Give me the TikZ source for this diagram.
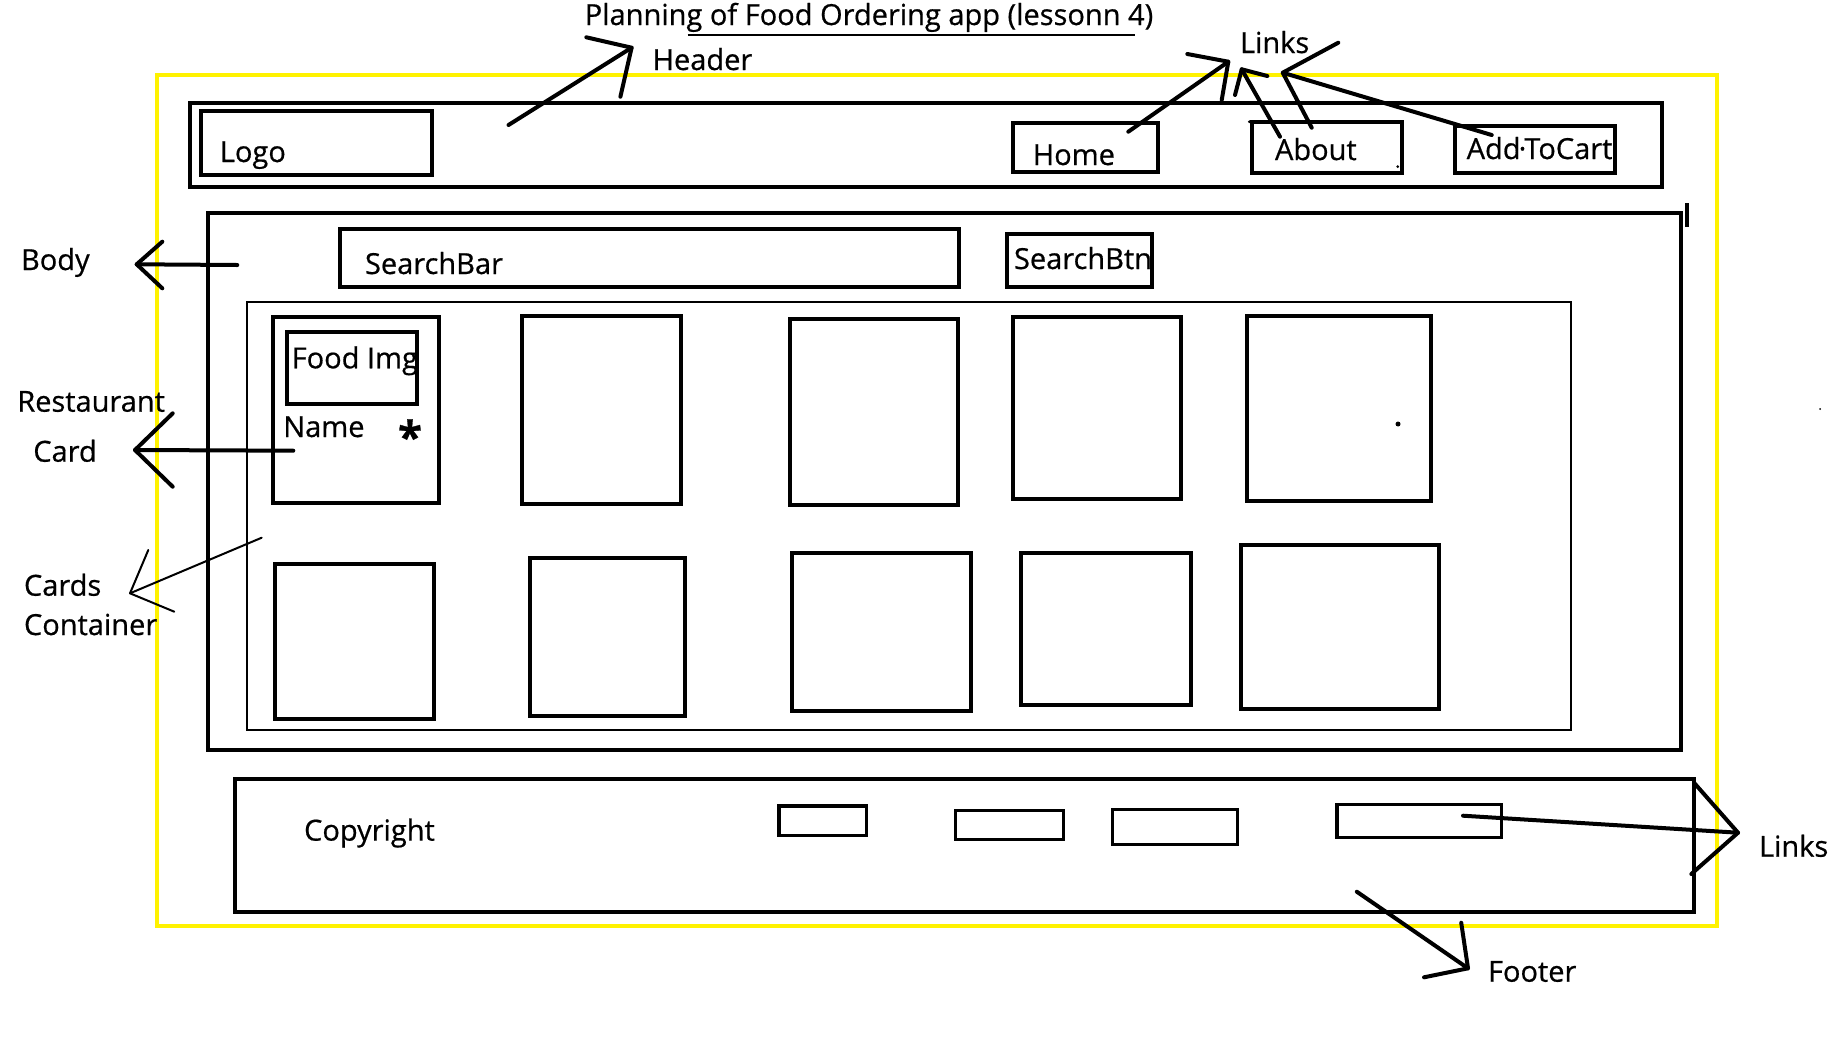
\documentclass[tikz,border=0pt]{standalone}
\usepackage{fontspec}
\setmainfont{Open Sans}[FakeBold=0.6]
\usetikzlibrary{fit}
\newcommand{\handarrow}[5][pen]{\draw[#1] (#2) -- (#3); \draw[#1] (#4) -- (#3) -- (#5);}
\begin{document}
\begin{tikzpicture}[x=0.5pt,y=-0.5pt,
  every node/.style={font=\fontsize{14.5}{17}\selectfont, inner sep=0pt, outer sep=0pt},
  thickbox/.style={draw, line width=2pt, inner sep=0pt, outer sep=0pt},
  midbox/.style={draw, line width=1.6pt, inner sep=0pt, outer sep=0pt},
  thinbox/.style={draw, line width=1pt, inner sep=0pt, outer sep=0pt},
  pagebox/.style={draw=yellow, line width=2pt, inner sep=0pt, outer sep=0pt},
  pen/.style={line width=2pt, line cap=round, line join=round},
  thinpen/.style={line width=1pt, line cap=round, line join=round},
  txt/.style={anchor=base west},
]
\fill[white] (0,0) rectangle (1834,1055);
\useasboundingbox (0,0) rectangle (1834,1055);

% page outline
\node[pagebox, fit={(156.7,74.9) (1716.7,926.3)}] (page) {};

% title
\node[txt] (title) at (584.8,25) {Planning of Food Ordering app (lessonn 4)};
\coordinate (ulA) at (687.7,35);
\coordinate (ulB) at (1134.5,35);
\draw[line width=1pt] (ulA) -- (ulB);

% header
\node[thickbox, fit={(189.5,102.9) (1662,187.1)}] (header) {};
\node[thickbox, fit={(201.2,111.1) (431.6,175.4)}] (logo) {};
\node[txt] (logot) at (219.9,162) {Logo};
\node[thickbox, fit={(1012.9,122.8) (1157.9,171.9)}] (home) {};
\node[txt] (homet) at (1032.8,165) {Home};
\node[thickbox, fit={(1251.7,121.7) (1401.7,172.7)}] (about) {};
\node[txt] (aboutt) at (1275,160) {About};
\node[thickbox, fit={(1455,126.3) (1615.2,173.1)}] (cart) {};
\node[txt] (cartt) at (1466.7,159) {Add\kern-1pt·\kern-1pt ToCart};
\fill (1249.3,121.7) circle (1.5);
\fill (1397.7,166.7) circle (1.5);

\node[txt] (headerl) at (652.6,70) {Header};
\coordinate (hS) at (508.5,125);
\coordinate (hT) at (631.6,47.7);
\coordinate (hB1) at (586.3,37.3);
\coordinate (hB2) at (620.4,96.7);
\handarrow{hS}{hT}{hB1}{hB2}

\node[txt] (linkst) at (1240,53) {Links};
\coordinate (lhS) at (1128.3,131.7);
\coordinate (lhT) at (1228.3,61.7);
\coordinate (lhB1) at (1187.3,54);
\coordinate (lhB2) at (1221.7,100);
\handarrow{lhS}{lhT}{lhB1}{lhB2}
\coordinate (laS) at (1280,136.7);
\coordinate (laT) at (1241.7,69.3);
\coordinate (laB1) at (1267.3,76);
\coordinate (laB2) at (1235,95);
\handarrow{laS}{laT}{laB1}{laB2}
\coordinate (lbS) at (1311.7,127.7);
\coordinate (lbT) at (1282.7,72.7);
\coordinate (lbB) at (1338.3,42.7);
\coordinate (lcS) at (1491.7,135);
\draw[pen] (lbS) -- (lbT) -- (lbB);
\draw[pen] (lcS) -- (lbT);

% body
\node[thickbox, fit={(208.2,212.9) (1680.7,749.7)}] (body) {};
\coordinate (iA) at (1687.3,203.3);
\coordinate (iB) at (1687.3,227.3);
\draw[line width=2pt] (iA) -- (iB);
\node[txt] (bodyl) at (21,270) {Body};
\coordinate (bS) at (237.3,265);
\coordinate (bT) at (136.7,264.3);
\coordinate (bB1) at (162.3,241.7);
\coordinate (bB2) at (162.3,288.3);
\handarrow{bS}{bT}{bB1}{bB2}

\node[thickbox, fit={(340.4,229.2) (959.1,286.6)}] (search) {};
\node[txt] (searcht) at (365,274) {SearchBar};
\node[thickbox, fit={(1007,233.9) (1152,286.6)}] (btn) {};
\node[txt] (btnt) at (1014,269) {SearchBtn};

% cards container
\node[thinbox, fit={(246.8,301.8) (1570.7,729.8)}] (cont) {};

% cards
\node[thickbox, fit={(272.7,316.7) (439.3,503.3)}] (c1) {};
\node[thickbox, fit={(287.3,331.7) (416.7,404)}] (img) {};
\node[txt] (imgt) at (291.7,368.3) {Food Img};
\node[txt] (namet) at (283.3,437) {Name};
\node[anchor=center, font=\fontsize{22}{24}\selectfont\bfseries] (star) at (410,436) {*};
\node[thickbox, fit={(521.6,315.8) (680.7,504.1)}] (c2) {};
\node[thickbox, fit={(789.5,319.3) (957.9,505.3)}] (c3) {};
\node[thickbox, fit={(1012.9,317) (1181.3,499.4)}] (c4) {};
\node[thickbox, fit={(1246.7,316) (1430.7,500.7)}] (c5) {};
\fill (1398,424) circle (2.5);
\node[thickbox, fit={(274.5,563.5) (434.1,718.5)}] (c6) {};
\node[thickbox, fit={(529.8,557.9) (685.4,715.8)}] (c7) {};
\node[thickbox, fit={(791.8,553.2) (970.8,711.1)}] (c8) {};
\node[thickbox, fit={(1021.1,553.2) (1190.7,705.3)}] (c9) {};
\node[thickbox, fit={(1241,545) (1438.6,708.8)}] (c10) {};
\fill (1820,409) circle (1);

\node[txt] (restl) at (17.3,411.7) {Restaurant};
\node[txt] (cardl) at (33.3,461.7) {Card};
\coordinate (rS) at (293.3,450.7);
\coordinate (rT) at (135,450);
\coordinate (rB1) at (172.7,413.3);
\coordinate (rB2) at (172.7,486.7);
\handarrow{rS}{rT}{rB1}{rB2}

\node[txt] (cardsl) at (24,595.7) {Cards};
\node[txt] (contl) at (24,635) {Container};
\coordinate (kS) at (261.7,537.7);
\coordinate (kT) at (130,593.3);
\coordinate (kB1) at (148.3,550);
\coordinate (kB2) at (174.3,611.7);
\handarrow[thinpen]{kS}{kT}{kB1}{kB2}

% footer
\node[thickbox, fit={(235.1,779) (1693.6,912.3)}] (footer) {};
\node[txt] (copy) at (304.1,840.6) {Copyright};
\node[midbox, fit={(779,805.9) (866.7,835.1)}] (f1) {};
\node[midbox, fit={(955.6,810.5) (1063.2,839.8)}] (f2) {};
\node[midbox, fit={(1112.3,809.4) (1237.4,844.5)}] (f3) {};
\node[midbox, fit={(1336.9,804.7) (1501.8,837.4)}] (f4) {};
\node[txt] (flinks) at (1759,856.7) {Links};
\coordinate (fS) at (1463,815.7);
\coordinate (fT) at (1738,832.7);
\coordinate (fB1) at (1694.5,783.3);
\coordinate (fB2) at (1691.3,874);
\handarrow{fS}{fT}{fB1}{fB2}
\node[txt] (footl) at (1488,981.7) {Footer};
\coordinate (tS) at (1356.8,891.7);
\coordinate (tT) at (1468,968.3);
\coordinate (tB1) at (1461.2,922.7);
\coordinate (tB2) at (1424,977.3);
\handarrow{tS}{tT}{tB1}{tB2}
\end{tikzpicture}
\end{document}
